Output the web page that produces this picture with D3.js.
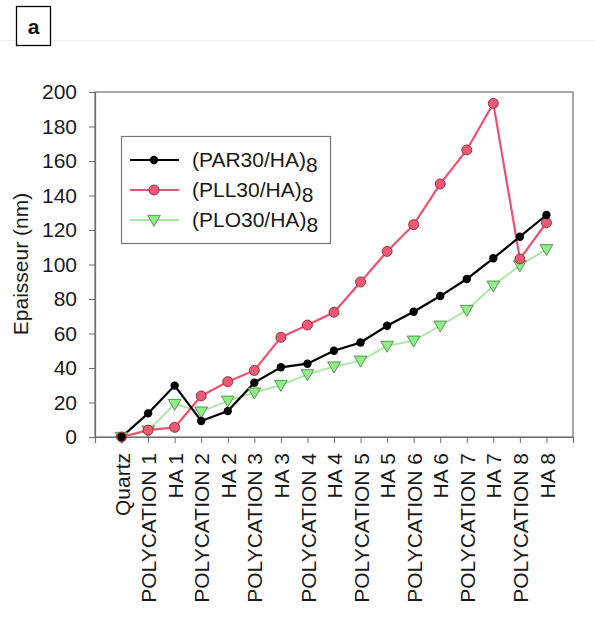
<!DOCTYPE html>
<html><head><meta charset="utf-8">
<script src="https://cdn.jsdelivr.net/npm/d3@7"></script>
<style>body{margin:0;background:#fff}svg{display:block}svg text{font-family:"Liberation Sans",Arial,sans-serif}</style>
</head><body><svg id="c" width="595" height="625"></svg>
<script>
const categories = ["Quartz","POLYCATION 1","HA 1","POLYCATION 2","HA 2","POLYCATION 3","HA 3","POLYCATION 4","HA 4","POLYCATION 5","HA 5","POLYCATION 6","HA 6","POLYCATION 7","HA 7","POLYCATION 8","HA 8"];
const par30 = [0,13.7,29.8,9.3,15,31.5,40.4,42.5,50,54.8,64.5,72.6,81.7,91.6,103.6,116.1,128.7];
const pll30 = [0,4,5.6,23.8,32.1,38.6,57.8,64.9,72.3,89.9,107.6,123.1,146.7,166.4,193.4,103.2,124.2];
const plo30 = [0,3.7,19.1,14.7,21,25.7,30.1,36.3,40.8,44.2,52.8,55.8,64.5,73.6,87.7,99.5,108.8];
const yTicks = [0,20,40,60,80,100,120,140,160,180,200];
const seriesNames = ["(PAR30/HA)","(PLL30/HA)","(PLO30/HA)"];
const seriesSub = "8";

const FF = "Liberation Sans, Arial, sans-serif";
const FS = 21;
const svg = d3.select("#c");
const L=95,R=573,T=92,B=437;
const x = d3.scalePoint().domain(categories).range([L,R]).padding(1);
const y = d3.scaleLinear().domain([0,200]).range([B,T]);
const axisCol="#6f6f6f";

// panel label
svg.append("line").attr("x1",0).attr("x2",595).attr("y1",40.5).attr("y2",40.5).attr("stroke","#eeeeee");
svg.append("rect").attr("x",16.5).attr("y",6.5).attr("width",34).attr("height",39).attr("fill","#fff").attr("stroke","#000").attr("stroke-width",1.3);
svg.append("text").attr("x",33.5).attr("y",34).attr("text-anchor","middle").attr("font-family",FF).attr("font-size",21).attr("font-weight","bold").attr("fill","#111").text("a");

// frame
svg.append("rect").attr("x",L).attr("y",T).attr("width",R-L).attr("height",B-T).attr("fill","none").attr("stroke",axisCol).attr("stroke-width",1.2);

// y axis
const ya = svg.append("g").attr("transform",`translate(${L},0)`).call(d3.axisLeft(y).tickValues(yTicks).tickSize(6).tickPadding(12));
ya.select(".domain").attr("stroke",axisCol).attr("stroke-width",1.2);
ya.selectAll(".tick line").attr("stroke",axisCol);
ya.selectAll(".tick text").attr("font-size",FS).attr("fill","#1a1a1a").attr("font-family",FF);

// x axis
const xa = svg.append("g").attr("transform",`translate(0,${B})`).call(d3.axisBottom(x).tickSize(6).tickPadding(8));
xa.select(".domain").attr("stroke",axisCol).attr("stroke-width",1.2);
xa.selectAll(".tick line").attr("stroke",axisCol);
xa.selectAll(".tick text").attr("font-size",FS).attr("fill","#1a1a1a").attr("font-family",FF)
  .attr("transform","rotate(-90)").attr("text-anchor","end").attr("x",-16).attr("y",0).attr("dy","0.36em");

// y title
svg.append("text").attr("transform","translate(28,264) rotate(-90)").attr("text-anchor","middle").attr("font-family",FF).attr("font-size",FS).attr("fill","#1a1a1a").text("Epaisseur (nm)");

const line = d3.line().x((d,i)=>x(categories[i])).y(d=>y(d));
const tri = d3.symbol().type(d3.symbolTriangle).size(70);

svg.append("path").datum(plo30).attr("d",line).attr("fill","none").attr("stroke","#a6e6a0").attr("stroke-width",1.8);
svg.append("path").datum(pll30).attr("d",line).attr("fill","none").attr("stroke","#f0506e").attr("stroke-width",2.2);
svg.append("path").datum(par30).attr("d",line).attr("fill","none").attr("stroke","#000").attr("stroke-width",2.2);

svg.selectAll(".g").data(plo30).join("path").attr("d",tri)
  .attr("transform",(d,i)=>`translate(${x(categories[i])},${y(d)-1}) rotate(180)`)
  .attr("fill","#8fee88").attr("stroke","#4e8a4a").attr("stroke-width",0.9);
svg.selectAll(".r").data(pll30).join("circle").attr("cx",(d,i)=>x(categories[i])).attr("cy",d=>y(d)).attr("r",5)
  .attr("fill","#ea5a76").attr("stroke","#8a2a3a").attr("stroke-width",0.9);
svg.selectAll(".b").data(par30).join("circle").attr("cx",(d,i)=>x(categories[i])).attr("cy",d=>y(d)).attr("r",4.2)
  .attr("fill","#000");

// legend
const lg = svg.append("g");
lg.append("rect").attr("x",121.5).attr("y",136.5).attr("width",209).attr("height",107).attr("fill","#fff").attr("stroke","#777").attr("stroke-width",1.2);
const ly=[160,190,220];
const lcol=["#000","#f0506e","#a6e6a0"];
seriesNames.forEach((n,k)=>{
  lg.append("line").attr("x1",130).attr("x2",179).attr("y1",ly[k]).attr("y2",ly[k]).attr("stroke",lcol[k]).attr("stroke-width",k==2?1.8:2.2);
  if(k==0) lg.append("circle").attr("cx",154).attr("cy",ly[k]).attr("r",4.2).attr("fill","#000");
  if(k==1) lg.append("circle").attr("cx",154).attr("cy",ly[k]).attr("r",5).attr("fill","#ea5a76").attr("stroke","#8a2a3a").attr("stroke-width",0.9);
  if(k==2) lg.append("path").attr("d",tri).attr("transform",`translate(154,${ly[k]-1}) rotate(180)`).attr("fill","#8fee88").attr("stroke","#4e8a4a").attr("stroke-width",0.9);
  const t = lg.append("text").attr("x",192).attr("y",ly[k]+7).attr("font-family",FF).attr("font-size",FS).attr("fill","#1a1a1a");
  t.append("tspan").text(n);
  t.append("tspan").attr("dy",5).text(seriesSub);
});
</script></body></html>
